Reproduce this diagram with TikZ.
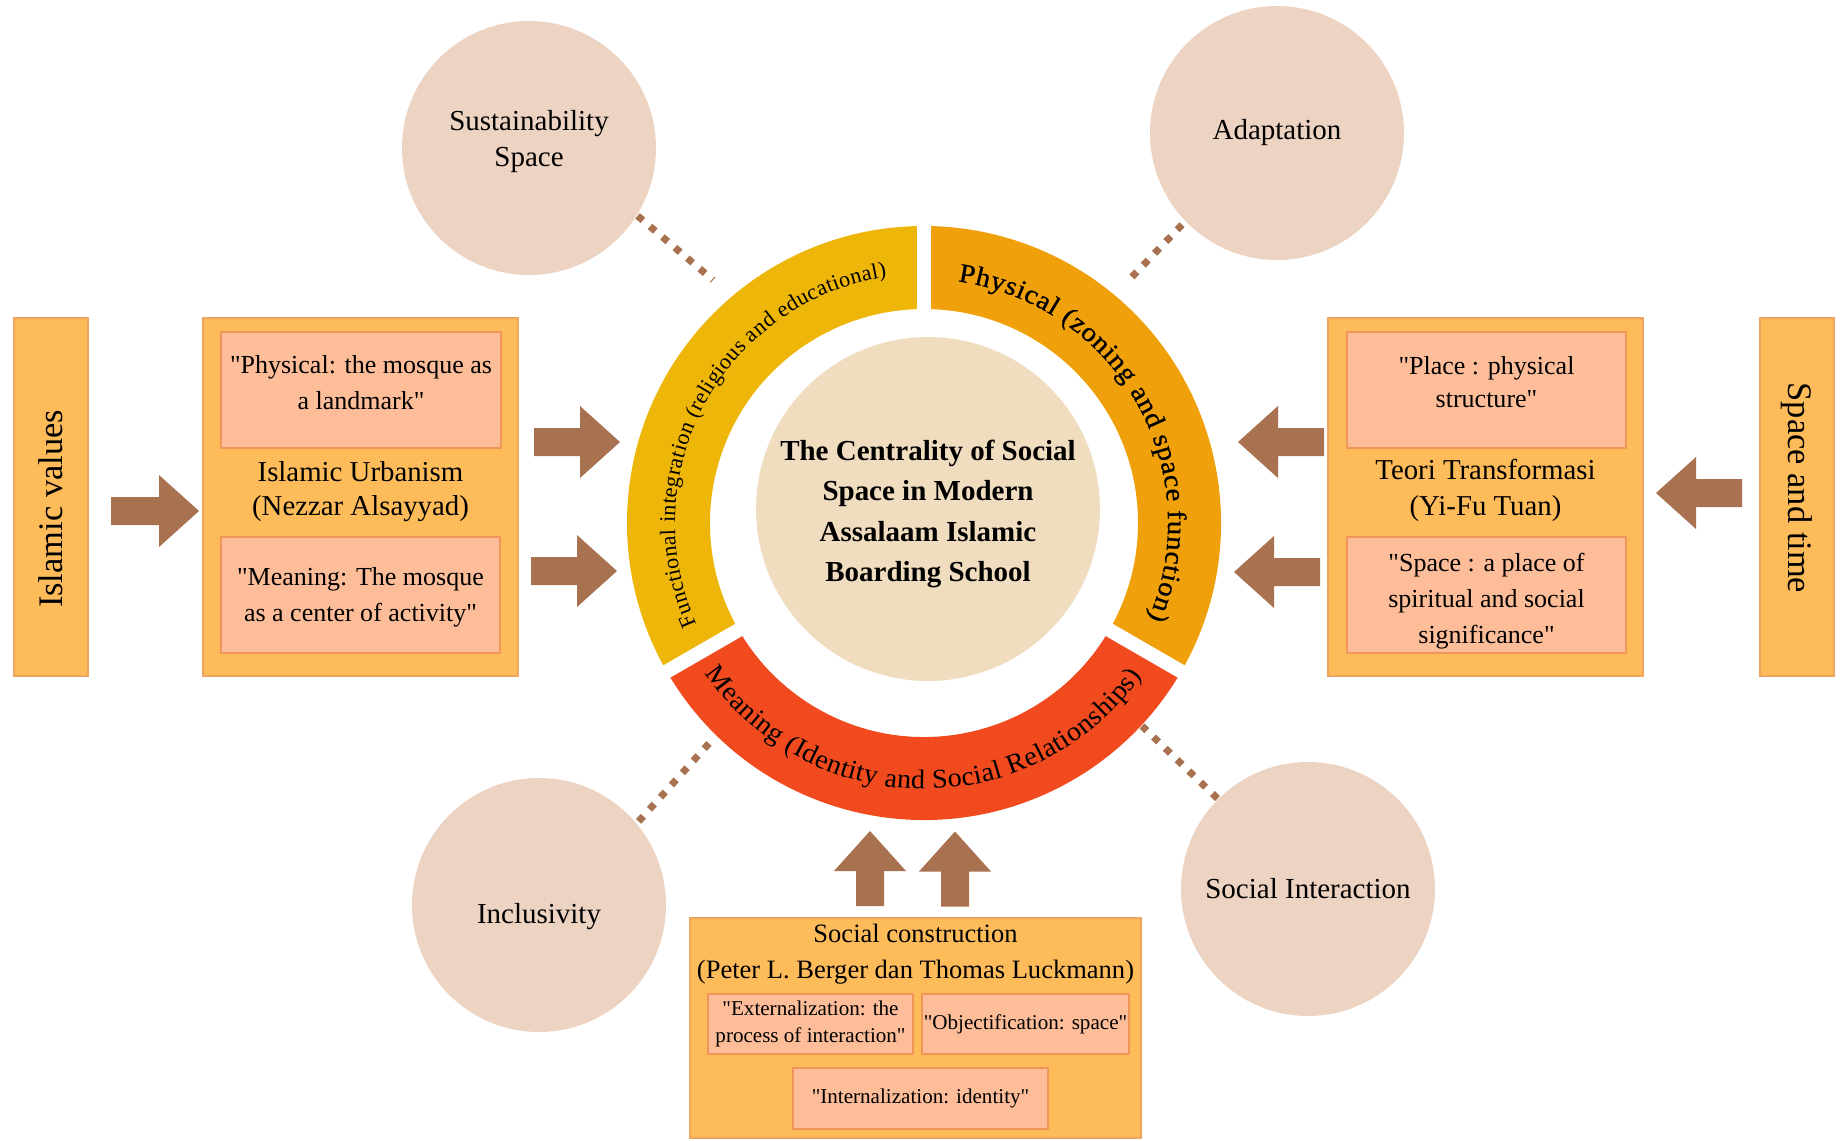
\documentclass[tikz,border=0pt]{standalone}
\usepackage{fontspec}
\setmainfont{Liberation Serif}
% a family without the TeX ligature mapping, so that " stays a straight quote
\newfontfamily\straightserif{Liberation Serif}
\newcommand\dq{{\straightserif"}}
\usetikzlibrary{decorations.text}

\definecolor{ringyellow}{RGB}{238,182,8}
\definecolor{ringorange}{RGB}{240,160,10}
\definecolor{ringred}{RGB}{240,74,30}
\definecolor{corefill}{RGB}{240,220,190}
\definecolor{bubblefill}{RGB}{237,211,194}
\definecolor{boxfill}{RGB}{253,187,90}
\definecolor{boxedge}{RGB}{240,165,95}
\definecolor{quotefill}{RGB}{253,189,153}
\definecolor{quoteedge}{RGB}{240,150,90}
\definecolor{arrowbrown}{RGB}{168,113,79}

\begin{document}
\begin{tikzpicture}[x=0.02cm, y=0.02cm,
  outerbox/.style={draw=boxedge, fill=boxfill, line width=1pt, inner sep=0pt},
  quotebox/.style={draw=quoteedge, fill=quotefill, line width=1.2pt, inner sep=0pt},
  quotetext/.style={align=center, inner sep=0pt, font={\fontsize{14.8pt}{20.5pt}\selectfont}},
  smallquote/.style={quotebox, align=center, font={\fontsize{12pt}{15.4pt}\selectfont}},
  theorytext/.style={align=center, inner sep=0pt, font={\fontsize{16.4pt}{19.3pt}\selectfont}},
  sidetext/.style={inner sep=0pt, font={\fontsize{19.6pt}{22pt}\selectfont}},
  bubble/.style={circle, fill=bubblefill, inner sep=0pt, minimum size=5.08cm},
  bubbletext/.style={align=center, inner sep=0pt, font={\fontsize{16.5pt}{20.5pt}\selectfont}},
  dotlink/.style={draw=arrowbrown, line width=4pt, dash pattern=on 4pt off 5.3pt},
  pics/barrow/.style={code={
    \fill[arrowbrown] (-#1,-14) -- (#1-40,-14) -- (#1-40,-36) -- (#1,0)
      -- (#1-40,36) -- (#1-40,14) -- (-#1,14) -- cycle;}}
]
\useasboundingbox (0,0) rectangle (1840,-1140);
\fill[white] (0,0) rectangle (1840,-1140);

% ---------- central ring ----------
\coordinate (hub) at (924,-523);
\begin{scope}[shift={(hub)}]
  \fill[ringyellow] (90:297) arc[start angle=90, end angle=210, radius=297]
    -- (210:214) arc[start angle=210, end angle=90, radius=214] -- cycle;
  \fill[ringorange] (-30:297) arc[start angle=-30, end angle=90, radius=297]
    -- (90:214) arc[start angle=90, end angle=-30, radius=214] -- cycle;
  \fill[ringred] (210:297) arc[start angle=210, end angle=330, radius=297]
    -- (330:214) arc[start angle=330, end angle=210, radius=214] -- cycle;
  \foreach \a in {90,210,330}
    \draw[white, line width=8pt] (\a:200) -- (\a:310);

  \path[decorate, decoration={text along path, text align=fit to path,
      text={|\fontsize{12.6pt}{14pt}\selectfont|Functional integration (religious and educational)}}]
    (204:249) arc[start angle=204, end angle=98.6, radius=249];
  \path[decorate, decoration={text along path, text align=fit to path,
      text={|\fontsize{15.2pt}{17pt}\selectfont\addfontfeatures{FakeBold=0.8,FakeStretch=1.08}|Physical (zoning and space function)}}]
    (82:244) arc[start angle=82, end angle=-23, radius=244];
  \path[decorate, decoration={text along path, text align=fit to path,
      text={|\fontsize{15.4pt}{17pt}\selectfont\addfontfeatures{FakeStretch=1.04}|Meaning (Identity and Social Relationships)}}]
    (214.5:266) arc[start angle=214.5, end angle=325, radius=266];
\end{scope}

\node[circle, fill=corefill, minimum size=6.88cm, inner sep=0pt] (core) at (928,-509) {};
\node[align=center, inner sep=0pt, font={\bfseries\fontsize{16.5pt}{22.8pt}\selectfont}]
  (coretext) at (928,-514)
  {The Centrality of Social\\Space in Modern\\Assalaam Islamic\\Boarding School};

% ---------- surrounding bubbles ----------
\coordinate (d1) at (713,-280);
\coordinate (d2) at (1129,-280);
\coordinate (d3) at (713,-739);
\coordinate (d4) at (1142,-726);
\draw[dotlink] (529,-148) ++(-32:128) coordinate (s1) -- (d1);
\draw[dotlink] (1277,-133) ++(224:132) coordinate (s2) -- (d2);
\draw[dotlink] (539,-905) ++(40:130) coordinate (s3) -- (d3);
\draw[dotlink] (1308,-889) ++(135:128) coordinate (s4) -- (d4);

\node[bubble] (sust) at (529,-148) {};
\node[bubble] (adapt) at (1277,-133) {};
\node[bubble] (incl) at (539,-905) {};
\node[bubble] (socint) at (1308,-889) {};
\node[bubbletext] (susttext) at (529,-142) {Sustainability\\Space};
\node[bubbletext] (adapttext) at (1277,-133) {Adaptation};
\node[bubbletext] (incltext) at (539,-917) {Inclusivity};
\node[bubbletext] (socinttext) at (1308,-889) {Social Interaction};

% ---------- left side ----------
\node[outerbox, minimum width=1.48cm, minimum height=7.16cm] (ival) at (51,-497) {};
\node[sidetext, rotate=90] (ivaltext) at (51,-509) {Islamic values};
\node[outerbox, minimum width=6.3cm, minimum height=7.16cm] (urb) at (360.5,-497) {};
\node[quotebox, minimum width=5.6cm, minimum height=2.32cm] (qL1) at (361,-390) {};
\node[quotebox, minimum width=5.58cm, minimum height=2.32cm] (qL2) at (360.5,-595) {};
\node[quotetext] (qL1text) at (361,-383) {\dq Physical: the mosque as\\a landmark\dq};
\node[quotetext] (qL2text) at (360.5,-597) {\dq Meaning: The mosque\\as a center of activity\dq};
\node[theorytext] (urbtitle) at (360.5,-492) {Islamic Urbanism\\(Nezzar Alsayyad)};

\pic at (155,-511) {barrow=44};
\pic at (577,-442) {barrow=43};
\pic at (574,-571) {barrow=43};

% ---------- right side ----------
\node[outerbox, minimum width=1.48cm, minimum height=7.16cm] (stime) at (1797,-497) {};
\node[sidetext, rotate=-90] (stimetext) at (1797,-488) {Space and time};
\node[outerbox, minimum width=6.3cm, minimum height=7.16cm] (teori) at (1485.5,-497) {};
\node[quotebox, minimum width=5.58cm, minimum height=2.32cm] (qR1) at (1486.5,-390) {};
\node[quotebox, minimum width=5.58cm, minimum height=2.32cm] (qR2) at (1486.5,-595) {};
\node[quotetext, font={\fontsize{14.8pt}{19pt}\selectfont}] (qR1text) at (1486.5,-382)
  {\dq Place : physical\\structure\dq};
\node[quotetext] (qR2text) at (1486.5,-601)
  {\dq Space : a place of\\spiritual and social\\significance\dq};
\node[theorytext, font={\fontsize{16.4pt}{20.5pt}\selectfont}] (teorititle) at (1485.5,-490)
  {Teori Transformasi\\(Yi-Fu Tuan)};

\pic[rotate=180] at (1699,-493) {barrow=43};
\pic[rotate=180] at (1281,-442) {barrow=43};
\pic[rotate=180] at (1277,-572) {barrow=43};

% ---------- bottom ----------
\node[outerbox, minimum width=9.02cm, minimum height=4.4cm] (soc) at (915.5,-1028) {};
\node[theorytext, font={\fontsize{15.1pt}{20.5pt}\selectfont}] (soctitle) at (915.5,-954)
  {Social construction\\(Peter L. Berger dan Thomas Luckmann)};
\node[smallquote, minimum width=4.1cm, minimum height=1.2cm] (ext) at (810.5,-1024)
  {\dq Externalization: the\\process of interaction\dq};
\node[smallquote, minimum width=4.14cm, minimum height=1.2cm] (obj) at (1025.5,-1024)
  {\dq Objectification: space\dq};
\node[smallquote, minimum width=5.1cm, minimum height=1.22cm] (intern) at (920.5,-1098.5)
  {\dq Internalization: identity\dq};

\pic[rotate=90] at (870,-868.5) {barrow=37.5};
\pic[rotate=90] at (955,-869) {barrow=37.5};
\end{tikzpicture}
\end{document}
